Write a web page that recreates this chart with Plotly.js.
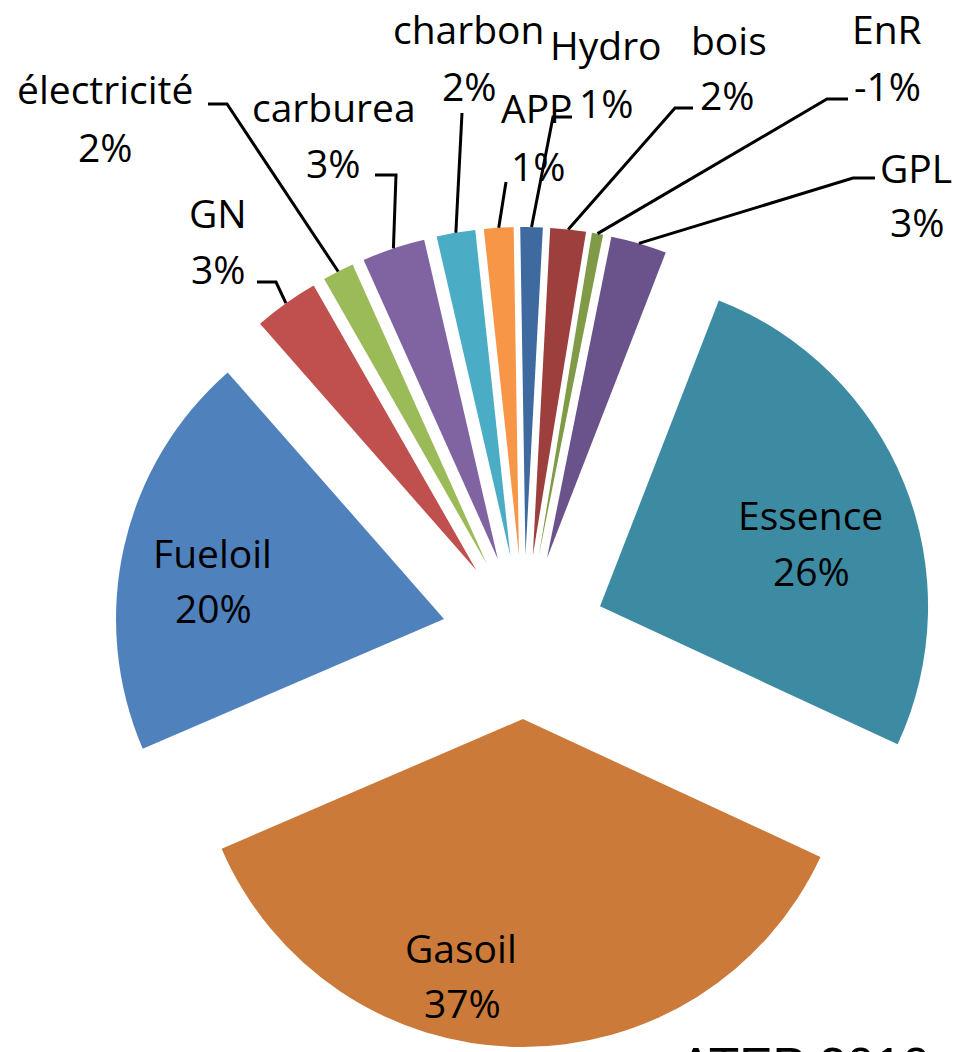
<!DOCTYPE html>
<html>
<head>
<meta charset="utf-8">
<script src="https://cdn.plot.ly/plotly-3.0.1.min.js"></script>
<style>html,body{margin:0;padding:0;background:#fff;}#chart{width:957px;height:1052px;}</style>
</head>
<body>
<div id="chart"></div>
<script>
// ---- data ----
const labels = ['Fueloil', 'GN', 'électricité', 'carburea', 'charbon', 'APP', 'Hydro', 'bois', 'EnR', 'GPL', 'Essence', 'Gasoil'];
const values = [20.0, 3.2, 1.55, 3.1, 1.9, 1.45, 1.1, 1.75, -0.55, 2.75, 26.0, 36.6];
const colors = ['#4F81BD', '#C0504D', '#9BBB59', '#8064A2', '#4BACC6', '#F79646', '#3F6A9F', '#9C3F3D', '#7F9B47', '#6A528B', '#3C8BA3', '#CB7A3A'];
const sourceNote = 'ATEP 2010';

// ---- layout constants (pixels) ----
const W = 957, H = 1052;
const CX = 524, CY = 637, R = 410, PULL = 0.25, ROT = 246.7;
const FONT = {family: 'Open Sans, Lato, sans-serif', size: 39, color: '#000'};
// label positions: [nameX, nameBaseline, pctX, pctBaseline]
const labelPos = [
  [212, 567, 213, 623],
  [218, 228, 218, 283],
  [105, 104, 105, 161],
  [334, 122, 333, 177],
  [468, 43, 469, 100],
  [537, 123, 538, 181],
  [606, 60, 606, 117],
  [729, 55, 727, 110],
  [887, 43, 887, 100],
  [916, 182, 917, 237],
  [810, 530, 811, 585],
  [461, 962, 462, 1017]
];
// leader line bend points (from slice outward), null = inside label
const leaders = [
  null,
  [[276, 282], [257, 282]],
  [[227, 104], [208, 104]],
  [[396, 175], [375, 175]],
  [[462, 113]],
  [[506, 182]],
  [[553, 117], [572, 117]],
  [[675, 108], [693, 108]],
  [[827, 99], [848, 99]],
  [[853, 178], [875, 178]],
  null,
  null
];

const absVals = values.map(v => Math.abs(v));
const total = absVals.reduce((a, b) => a + b, 0);
const pctText = values.map(v => Math.round(v / total * 100) + '%');

const px = x => x / W;
const py = y => 1 - y / H;

const annotations = [];
const shapes = [];
let ang = ROT;
labels.forEach((lab, i) => {
  const span = absVals[i] / total * 360;
  const mid = (ang + span / 2) * Math.PI / 180;
  ang += span;
  const p = labelPos[i];
  const off = 15;
  annotations.push({xref: 'paper', yref: 'paper', x: px(p[0]), y: py(p[1] - off), text: lab,
    showarrow: false, xanchor: 'center', yanchor: 'middle', font: FONT});
  annotations.push({xref: 'paper', yref: 'paper', x: px(p[2]), y: py(p[3] - off), text: pctText[i],
    showarrow: false, xanchor: 'center', yanchor: 'middle', font: FONT});
  if (leaders[i]) {
    const sx = CX + R * Math.sin(mid), sy = CY - R * Math.cos(mid);
    let path = 'M ' + px(sx) + ' ' + py(sy);
    leaders[i].forEach(q => { path += ' L ' + px(q[0]) + ' ' + py(q[1]); });
    shapes.push({type: 'path', xref: 'paper', yref: 'paper', path: path,
      line: {color: '#000', width: 3}});
  }
});

annotations.push({xref: 'paper', yref: 'paper', x: px(677), y: py(1036), text: sourceNote,
  showarrow: false, xanchor: 'left', yanchor: 'top',
  font: {family: 'Liberation Sans, Arial, sans-serif', size: 50, color: '#000'}});

const trace = {
  type: 'pie',
  labels: labels,
  values: absVals,
  sort: false,
  direction: 'clockwise',
  rotation: ROT,
  pull: PULL,
  textinfo: 'none',
  hoverinfo: 'skip',
  marker: {colors: colors, line: {width: 0}},
  domain: {x: [px(CX - R), px(CX + R)], y: [py(CY + R), py(CY - R)]}
};

Plotly.newPlot('chart', [trace], {
  width: W, height: H,
  margin: {l: 0, r: 0, t: 0, b: 0},
  showlegend: false,
  paper_bgcolor: '#fff',
  annotations: annotations,
  shapes: shapes
}, {staticPlot: true});
</script>
</body>
</html>
